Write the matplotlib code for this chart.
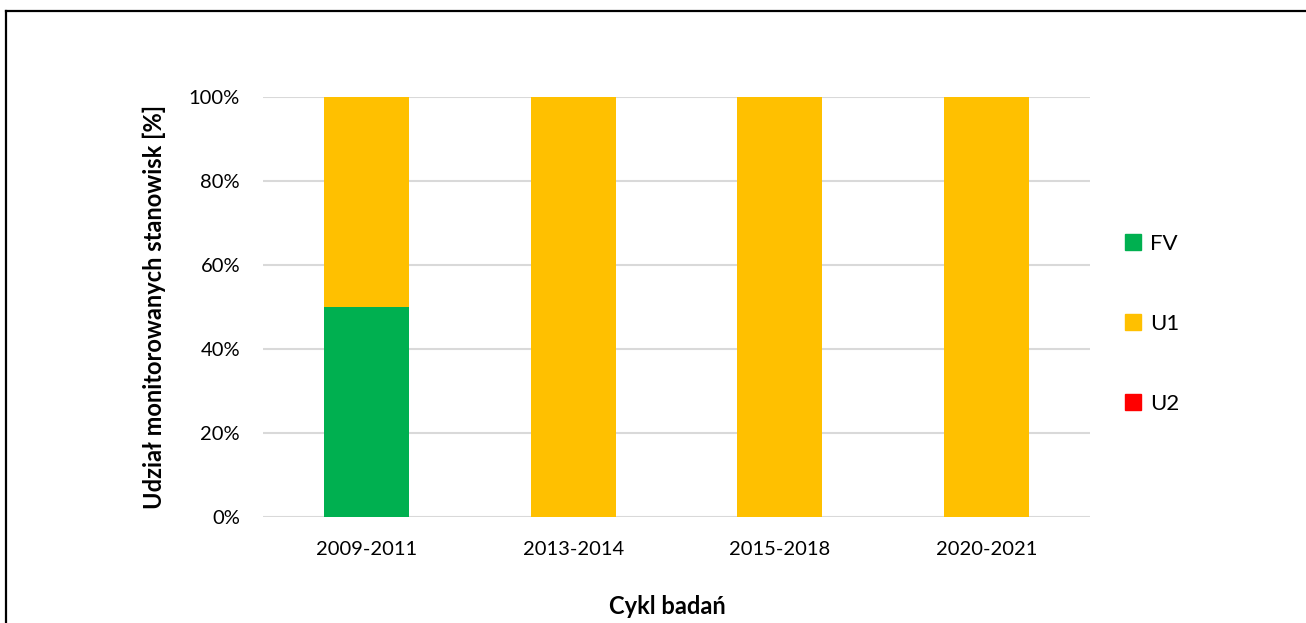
import numpy as np
import matplotlib
matplotlib.use("Agg")
import matplotlib.pyplot as plt
from matplotlib.lines import Line2D

plt.rcParams['font.family'] = ['Lato', 'DejaVu Sans']

# data (share of monitored sites per survey cycle)
cycles = ["2009-2011", "2013-2014", "2015-2018", "2020-2021"]
fv = [0.50, 0.0, 0.0, 0.0]
u1 = [0.50, 1.0, 1.0, 1.0]
u2 = [0.0, 0.0, 0.0, 0.0]
yticks = [0, 0.2, 0.4, 0.6, 0.8, 1.0]
ytick_labels = ["0%", "20%", "40%", "60%", "80%", "100%"]

col_fv = "#00B050"
col_u1 = "#FFC000"
col_u2 = "#FF0000"

fig = plt.figure(figsize=(13.06, 6.23), dpi=100)
ax = fig.add_axes([263 / 1306, 1 - 517 / 623, 827 / 1306, 420 / 623])

x = np.arange(len(cycles))
w = 0.41
ax.bar(x, fv, w, color=col_fv, label="FV", zorder=3)
ax.bar(x, u1, w, bottom=fv, color=col_u1, label="U1", zorder=3)
ax.bar(x, u2, w, bottom=np.array(fv) + np.array(u1), color=col_u2,
       label="U2", zorder=3)

ax.set_xlim(-0.5, len(cycles) - 0.5)
ax.set_ylim(0, 1.0)
ax.set_yticks(yticks)
ax.set_yticklabels(ytick_labels)
ax.set_xticks(x)
ax.set_xticklabels(cycles)
ax.tick_params(axis="both", length=0, labelsize=14.5, colors="#000000")
ax.tick_params(axis="y", pad=16.5)
ax.tick_params(axis="x", pad=17)
ax.yaxis.grid(True, color="#d9d9d9", linewidth=1.5, zorder=0)
ax.set_axisbelow(True)
for s in ax.spines.values():
    s.set_visible(False)

ax.set_ylabel("Udział monitorowanych stanowisk [%]", fontsize=17,
              fontweight="bold")
ax.yaxis.set_label_coords((166 - 263) / 827, 0.5)
fig.text(667 / 1306, 1 - 607 / 623, "Cykl badań", fontsize=17,
         fontweight="bold", ha="center", va="center")

handles = [Line2D([], [], marker="s", linestyle="none", markersize=12,
                  color=c) for c in (col_fv, col_u1, col_u2)]
fig.legend(handles, ["FV", "U1", "U2"], loc="upper left",
           bbox_to_anchor=(1100 / 1306, 1 - 214 / 623), frameon=False,
           fontsize=16, labelspacing=2.7, handletextpad=0.15,
           handlelength=1.2)

# outer frame (left and top edges visible)
fig.add_artist(Line2D([6 / 1306, 6 / 1306], [0, 1 - 11 / 623],
                      transform=fig.transFigure, color="black", lw=1.6))
fig.add_artist(Line2D([6 / 1306, 1], [1 - 11 / 623, 1 - 11 / 623],
                      transform=fig.transFigure, color="black", lw=1.6))

fig.savefig("out.png", dpi=100)
